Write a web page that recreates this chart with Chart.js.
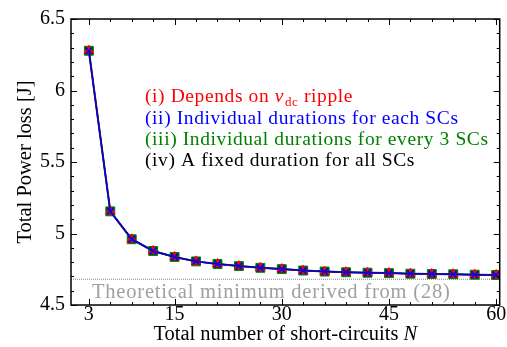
<!DOCTYPE html>
<html>
<head>
<meta charset="utf-8">
<script src="https://cdn.jsdelivr.net/npm/chart.js"></script>
<style>
  html, body { margin: 0; padding: 0; background: #fff; }
  #wrap { width: 507px; height: 347px; position: relative; }
</style>
</head>
<body>
<div id="wrap"><canvas id="myChart"></canvas></div>
<script>
// number of short-circuits N
const shortCircuits = [3, 6, 9, 12, 15, 18, 21, 24, 27, 30, 33, 36, 39, 42, 45, 48, 51, 54, 57, 60];
// total power loss [J] for the four strategies (they overlap in the figure)
const lossRipple   = [6.278, 5.155, 4.960, 4.878, 4.836, 4.805, 4.787, 4.772, 4.760, 4.751, 4.741, 4.734, 4.729, 4.726, 4.723, 4.719, 4.717, 4.715, 4.712, 4.710];
const lossEach     = [6.278, 5.155, 4.960, 4.878, 4.836, 4.805, 4.787, 4.772, 4.760, 4.751, 4.741, 4.734, 4.729, 4.726, 4.723, 4.719, 4.717, 4.715, 4.712, 4.710];
const lossEvery3   = [6.278, 5.155, 4.960, 4.878, 4.836, 4.805, 4.787, 4.772, 4.760, 4.751, 4.741, 4.734, 4.729, 4.726, 4.723, 4.719, 4.717, 4.715, 4.712, 4.710];
const lossFixed    = [6.278, 5.155, 4.960, 4.878, 4.836, 4.805, 4.787, 4.772, 4.760, 4.751, 4.741, 4.734, 4.729, 4.726, 4.723, 4.719, 4.717, 4.715, 4.712, 4.710];
const theoreticalMin = 4.68;

const xTicks = [3, 15, 30, 45, 60];
const yTicks = [4.5, 5, 5.5, 6, 6.5];

const serif = '"Liberation Serif", "DejaVu Serif", serif';

function toPoints(vals) {
    return shortCircuits.map((n, i) => ({ x: n, y: vals[i] }));
}

// inward ticks on all four sides, plus the box
const frameTicks = {
    id: 'frameTicks',
    afterDraw(chart) {
        const ctx = chart.ctx;
        const a = chart.chartArea;
        const xs = chart.scales.x, ys = chart.scales.y;
        ctx.save();
        ctx.strokeStyle = '#000';
        ctx.lineWidth = 1.5;
        ctx.strokeRect(a.left, a.top, a.right - a.left, a.bottom - a.top);
        ctx.lineWidth = 1;
        ctx.beginPath();
        for (let v = 3; v <= 60; v += 3) {
            const px = Math.round(xs.getPixelForValue(v)) + 0.5;
            const len = xTicks.includes(v) ? 6 : 3;
            ctx.moveTo(px, a.bottom); ctx.lineTo(px, a.bottom - len);
            ctx.moveTo(px, a.top); ctx.lineTo(px, a.top + len);
        }
        for (let k = 45; k <= 65; k++) {
            const v = k / 10;
            const py = Math.round(ys.getPixelForValue(v)) + 0.5;
            const len = (k % 5 === 0) ? 6 : 3;
            ctx.moveTo(a.left, py); ctx.lineTo(a.left + len, py);
            ctx.moveTo(a.right, py); ctx.lineTo(a.right - len, py);
        }
        ctx.stroke();
        ctx.restore();
    }
};

// annotation texts and axis titles
const texts = {
    id: 'texts',
    afterDraw(chart) {
        const ctx = chart.ctx;
        const a = chart.chartArea;
        ctx.save();
        ctx.textBaseline = 'alphabetic';
        ctx.textAlign = 'left';
        const font = '19.5px ' + serif;
        ctx.letterSpacing = '0.6px';
        let x = 145;

        // (i) line with v_dc
        ctx.font = font;
        ctx.fillStyle = '#ff0000';
        let s = '(i) Depends on ';
        ctx.fillText(s, x, 102);
        let w = ctx.measureText(s).width;
        ctx.font = 'italic 19.5px ' + serif;
        ctx.fillText('v', x + w, 102);
        w += ctx.measureText('v').width + 1;
        ctx.font = '13px ' + serif;
        ctx.fillText('dc', x + w, 106);
        w += ctx.measureText('dc').width;
        ctx.font = font;
        ctx.fillText(' ripple', x + w, 102);

        ctx.fillStyle = '#0000ff';
        ctx.fillText('(ii) Individual durations for each SCs', x, 124);
        ctx.fillStyle = '#008000';
        ctx.fillText('(iii) Individual durations for every 3 SCs', x, 145);
        ctx.fillStyle = '#000';
        ctx.fillText('(iv) A fixed duration for all SCs', x, 166);

        ctx.fillStyle = '#a0a0a0';
        ctx.font = '20.5px ' + serif;
        ctx.letterSpacing = '0.8px';
        ctx.fillText('Theoretical minimum derived from (28)', 92, 298);
        ctx.letterSpacing = '0px';

        // x title with italic N
        const tfont = '20.5px ' + serif;
        ctx.fillStyle = '#000';
        ctx.font = tfont;
        const t1 = 'Total number of short-circuits ';
        const w1 = ctx.measureText(t1).width;
        ctx.font = 'italic ' + tfont;
        const w2 = ctx.measureText('N').width;
        const cx = (a.left + a.right) / 2;
        const start = cx - (w1 + w2) / 2;
        ctx.font = tfont;
        ctx.fillText(t1, start, 340);
        ctx.font = 'italic ' + tfont;
        ctx.fillText('N', start + w1, 340);

        // y title
        ctx.font = tfont;
        ctx.translate(31, (a.top + a.bottom) / 2);
        ctx.rotate(-Math.PI / 2);
        ctx.textAlign = 'center';
        ctx.fillText('Total Power loss [J]', 0, 0);
        ctx.restore();
    }
};

const ctx = document.getElementById('myChart').getContext('2d');
const myChart = new Chart(ctx, {
    type: 'line',
    data: {
        datasets: [
            {
                label: '(ii) Individual durations for each SCs',
                data: toPoints(lossEach),
                borderColor: '#0000e0',
                borderWidth: 1.5,
                pointStyle: 'crossRot',
                pointRadius: 4.5,
                pointBorderColor: '#0000ff',
                pointBorderWidth: 1.5,
                order: 0
            },
            {
                label: '(i) Depends on vdc ripple',
                data: toPoints(lossRipple),
                borderColor: '#ff0000',
                borderWidth: 1,
                pointStyle: 'triangle',
                pointRadius: 5.5,
                pointBackgroundColor: '#ff0000',
                pointBorderColor: '#ff0000',
                pointBorderWidth: 1,
                order: 1
            },
            {
                label: '(iii) Individual durations for every 3 SCs',
                data: toPoints(lossEvery3),
                borderColor: '#008000',
                borderWidth: 1,
                pointStyle: 'rect',
                pointRadius: 6.3,
                pointBackgroundColor: '#005000',
                pointBorderColor: '#008000',
                pointBorderWidth: 1,
                order: 2
            },
            {
                label: '(iv) A fixed duration for all SCs',
                data: toPoints(lossFixed),
                borderColor: '#000000',
                borderWidth: 2,
                pointRadius: 0,
                order: 3
            },
            {
                label: 'Theoretical minimum',
                data: [{ x: 0.5, y: theoreticalMin }, { x: 60.5, y: theoreticalMin }],
                borderColor: '#888888',
                borderWidth: 1,
                borderDash: [1, 1],
                pointRadius: 0,
                order: 4
            }
        ]
    },
    options: {
        responsive: true,
        maintainAspectRatio: false,
        animation: false,
        layout: { padding: { left: 0, right: 6, top: 19, bottom: 0 } },
        plugins: {
            legend: { display: false },
            tooltip: { enabled: false }
        },
        scales: {
            x: {
                type: 'linear',
                min: 0.5,
                max: 60.5,
                grid: { display: false, drawTicks: false },
                border: { display: false },
                afterBuildTicks: (scale) => { scale.ticks = xTicks.map(v => ({ value: v })); },
                afterFit: (scale) => { scale.height = 42; },
                ticks: {
                    color: '#000',
                    padding: -2,
                    maxRotation: 0,
                    autoSkip: false,
                    font: { family: serif, size: 20 }
                }
            },
            y: {
                min: 4.5,
                max: 6.5,
                grid: { display: false, drawTicks: false },
                border: { display: false },
                afterBuildTicks: (scale) => { scale.ticks = yTicks.map(v => ({ value: v })); },
                afterFit: (scale) => { scale.width = 71; },
                ticks: {
                    color: '#000',
                    padding: 6,
                    font: { family: serif, size: 20 },
                    callback: (v) => String(v)
                }
            }
        }
    },
    plugins: [frameTicks, texts]
});
</script>
</body>
</html>
